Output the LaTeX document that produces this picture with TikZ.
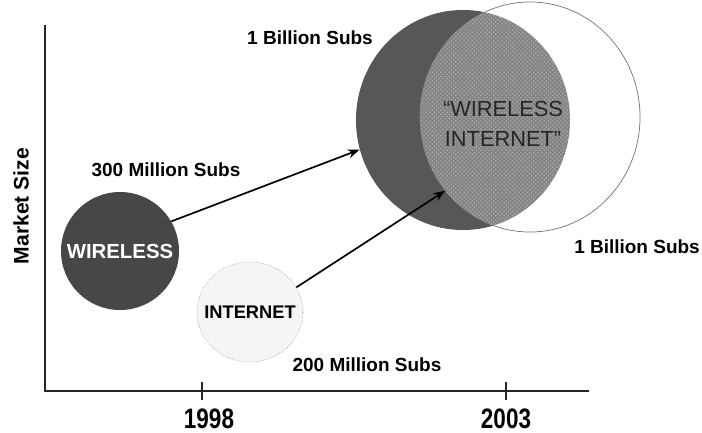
\documentclass[tikz,border=0pt]{standalone}
\usepackage{fontspec}
\setmainfont{Liberation Sans}
\newfontfamily\narrowfont[FakeStretch=0.8]{Liberation Sans}
\usetikzlibrary{arrows.meta, shapes.geometric, patterns}

\begin{document}
\begin{tikzpicture}[>=Stealth, x=0.025cm, y=-0.025cm,
  subs/.style={font=\fontsize{13.5}{16}\selectfont\bfseries},
  yearlbl/.style={font=\narrowfont\fontsize{20}{24}\selectfont\bfseries},
  blob/.style={ellipse, inner sep=0pt},
  axis/.style={line width=1.3pt, black!85}]
  \useasboundingbox (0,0) rectangle (702,433);

  % axes
  \coordinate (top) at (45,25);
  \coordinate (orig) at (45,391);
  \coordinate (right) at (589,391);
  \draw[axis] (top) -- (orig) -- (right);
  \draw[axis, line width=0.9pt] (202,382) -- (202,400);
  \draw[axis, line width=0.9pt] (506,382) -- (506,400);
  \node[yearlbl] (y98) at (209,419) {1998};
  \node[yearlbl] (y03) at (506,419) {2003};
  \node[subs, font=\fontsize{15}{18}\selectfont\bfseries, rotate=90] (msize) at (21,206) {Market Size};

  % 2003 circles
  \node[blob, fill=black!66, minimum width=5.35cm, minimum height=5.5cm] (wl03) at (463,120) {};
  \node[blob, fill=white, draw=black!55, line width=0.5pt, minimum width=5.5cm, minimum height=5.75cm] (in03) at (530,117) {};
  \begin{scope}
    \clip (463,120) ellipse [x radius=2.675cm, y radius=2.75cm];
    \fill[black!48] (530,117) ellipse [x radius=2.75cm, y radius=2.875cm];
    \fill[pattern=crosshatch dots, pattern color=black!28] (530,117) ellipse [x radius=2.75cm, y radius=2.875cm];
  \end{scope}
  \node[font=\fontsize{15.5}{21}\selectfont, text=black!85, align=center] (wi) at (503,124) {“WIRELESS\\INTERNET”};

  % 1998 circles
  \node[blob, fill=black!72, minimum width=2.95cm, minimum height=2.95cm,
        label={[text=white, font=\fontsize{14.5}{17}\selectfont\bfseries]center:WIRELESS}] (wl98) at (120,251) {};
  \node[blob, fill=black!4, draw=black!45, densely dotted, minimum width=2.65cm, minimum height=2.5cm,
        label={[font=\fontsize{13}{16}\selectfont\bfseries]center:INTERNET}] (in98) at (250,312) {};

  % subscriber labels
  \node[subs] (s300) at (166,170) {300 Million Subs};
  \node[subs] (s200) at (367,365) {200 Million Subs};
  \node[subs] (b1) at (310,38) {1 Billion Subs};
  \node[subs] (b2) at (637,247) {1 Billion Subs};

  % growth arrows
  \draw[->, line width=1.2pt] (wl98.30) -- (wl03.196);
  \draw[->, line width=1.2pt] (in98.28) -- (in03.221);
\end{tikzpicture}
\end{document}
